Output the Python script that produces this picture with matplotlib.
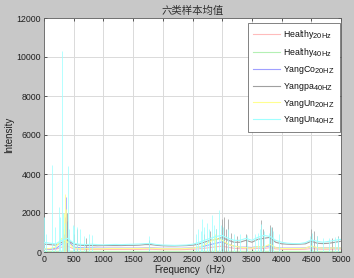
import matplotlib
matplotlib.use("Agg")
import matplotlib.pyplot as plt
import matplotlib._mathtext as _mt

_mt.SHRINK_FACTOR = 0.85  # MATLAB-like larger subscripts

plt.rcParams['font.family'] = ['Liberation Sans', 'Noto Sans CJK SC', 'DejaVu Sans']
plt.rcParams['mathtext.fontset'] = 'custom'
plt.rcParams['mathtext.rm'] = 'Liberation Sans'
plt.rcParams['mathtext.it'] = 'Liberation Sans'

# ---------------- data ----------------
base_freq = [0, 100, 200, 300, 400, 500, 600, 700, 800, 900,
             1000, 1100, 1200, 1300, 1400, 1500, 1600, 1700, 1800, 1900,
             2000, 2100, 2200, 2300, 2400, 2500, 2600, 2700, 2800, 2900,
             3000, 3100, 3200, 3300, 3400, 3500, 3600, 3700, 3800, 3900,
             4000, 4100, 4200, 4300, 4400, 4500, 4600, 4700, 4800, 4900, 5000]

healthy20_base = [130, 130, 140, 250, 300, 160, 140, 130, 130, 130,
                  130, 130, 130, 130, 130, 130, 130, 140, 140, 130,
                  120, 120, 120, 120, 130, 140, 160, 190, 230, 270,
                  300, 240, 190, 170, 170, 160, 190, 180, 220, 160,
                  140, 130, 130, 130, 140, 180, 150, 140, 140, 150, 150]
healthy40_base = [30, 30, 30, 40, 40, 30, 30, 30, 30, 30,
                  30, 30, 30, 30, 30, 30, 30, 30, 30, 30,
                  30, 30, 30, 30, 30, 30, 30, 30, 30, 30,
                  30, 30, 30, 30, 30, 30, 30, 30, 30, 30,
                  30, 30, 30, 30, 30, 30, 30, 30, 30, 30, 30]
yangco20_base = [150, 150, 180, 400, 600, 250, 220, 210, 210, 200,
                 200, 200, 200, 200, 200, 200, 200, 210, 210, 200,
                 190, 190, 190, 190, 200, 210, 250, 300, 380, 450,
                 520, 400, 300, 250, 250, 230, 280, 250, 320, 230,
                 200, 200, 200, 200, 210, 280, 220, 210, 210, 210, 200]
yangpa40_base = [400, 380, 350, 500, 600, 400, 350, 330, 330, 320,
                 330, 330, 330, 330, 340, 340, 350, 380, 380, 340,
                 320, 310, 310, 320, 330, 350, 400, 500, 600, 650,
                 750, 600, 500, 500, 600, 500, 650, 700, 750, 500,
                 420, 400, 390, 400, 420, 550, 450, 430, 450, 500, 550]
yangun20_base = [150, 180, 250, 700, 500, 200, 170, 170, 170, 170,
                 170, 180, 180, 180, 180, 180, 180, 190, 190, 180,
                 170, 170, 170, 170, 180, 200, 250, 350, 550, 700,
                 600, 400, 300, 250, 220, 200, 280, 250, 400, 220,
                 180, 180, 180, 180, 200, 300, 220, 200, 200, 210, 200]
yangun40_base = [500, 450, 420, 600, 700, 450, 400, 380, 400, 380,
                 370, 380, 390, 380, 390, 400, 410, 430, 440, 380,
                 360, 350, 340, 350, 360, 400, 480, 600, 700, 800,
                 850, 700, 600, 600, 700, 600, 750, 850, 800, 600,
                 500, 450, 430, 430, 480, 620, 550, 500, 550, 600, 650]

yangco20_spike_f = [340, 360, 375, 390]
yangco20_spike_v = [900, 1800, 2800, 1600]

yangpa40_spike_f = [360, 380, 500, 560, 700, 1760, 2700, 2800, 2900, 3000,
                    3030, 3070, 3100, 3150, 3250, 3400, 3650, 3680, 3800, 3830,
                    4500, 4550, 4600, 4850, 4950]
yangpa40_spike_v = [1200, 2000, 900, 1200, 700, 600, 900, 1100, 1200, 1700,
                    1800, 1200, 1700, 1000, 800, 900, 1650, 1200, 1400, 1300,
                    1200, 1100, 800, 700, 800]

yangun20_spike_f = [320, 340, 353, 370, 2880]
yangun20_spike_v = [1200, 2000, 3000, 2200, 900]

yangun40_spike_f = [0, 30, 140, 180, 250, 270, 303, 320, 350, 398,
                    420, 480, 510, 560, 610, 680, 750, 800, 1760, 2560,
                    2600, 2640, 2660, 2700, 2740, 2780, 2830, 2870, 2900, 2940,
                    2980, 3020, 3100, 3200, 3300, 3420, 3560, 3600, 3640, 3660,
                    3700, 3780, 3820, 3860, 3950, 4480, 4520, 4600, 4700, 4800,
                    4900, 4950, 5000]
yangun40_spike_v = [1800, 900, 4450, 1300, 2300, 1800, 10300, 2000, 1500, 4400,
                    1200, 1400, 1350, 1300, 1200, 800, 900, 850, 800, 900,
                    1200, 1100, 1700, 1300, 1500, 1200, 1900, 1400, 1200, 2150,
                    1400, 1300, 1200, 900, 900, 850, 900, 1000, 1200, 1450,
                    1100, 1000, 1300, 1100, 900, 800, 1000, 800, 700, 700,
                    750, 750, 800]

label_main = ['Healthy', 'Healthy', 'YangCo', 'Yangpa', 'YangUn', 'YangUn']
label_sub = ['20Hz', '40Hz', '20HZ', '40HZ', '20HZ', '40HZ']
colors = ['#ffbcbc', '#b4f0b4', '#a0a0ff', '#a0a0a0', '#ffff90', '#a0ffff']

x_ticks = [0, 500, 1000, 1500, 2000, 2500, 3000, 3500, 4000, 4500, 5000]
y_ticks = [0, 2000, 4000, 6000, 8000, 10000, 12000]

# ---------------- plot ----------------
fig = plt.figure(figsize=(3.54, 2.78), dpi=100, facecolor='#c8c8c8')
ax = fig.add_axes([44/354, 26/278, 297/354, 234/278])
ax.set_facecolor('white')

bases = [healthy20_base, healthy40_base, yangco20_base, yangpa40_base, yangun20_base, yangun40_base]
spikes = [None, None, (yangco20_spike_f, yangco20_spike_v), (yangpa40_spike_f, yangpa40_spike_v),
          (yangun20_spike_f, yangun20_spike_v), (yangun40_spike_f, yangun40_spike_v)]

for base, sp, c, m, s in zip(bases, spikes, colors, label_main, label_sub):
    lab = m + r'$_{\mathrm{' + s + '}}$'
    ax.plot(base_freq, base, color=c, lw=0.8, label=lab, zorder=3)
    if sp is not None:
        ax.vlines(sp[0], 0, sp[1], colors=c, lw=0.55, zorder=3)

ax.set_xlim(0, 5000)
ax.set_ylim(0, 12000)
ax.set_xticks(x_ticks)
ax.set_yticks(y_ticks)
ax.grid(True, color='#dadada', lw=0.7, zorder=0)
ax.set_axisbelow(True)
ax.tick_params(direction='in', length=2, width=0.5, labelsize=6.3, colors='#202020',
               top=True, right=True, pad=2)
for sp_ in ax.spines.values():
    sp_.set_color('#606060')
    sp_.set_linewidth(0.6)

ax.set_xlabel('Frequency（Hz）', fontsize=7, labelpad=0.5, color='#202020')
ax.set_ylabel('Intensity', fontsize=7, labelpad=2, color='#202020')
ax.set_title('六类样本均值', fontsize=7.5, pad=3, color='#303030',
             family=['Noto Sans CJK SC'])

leg = ax.legend(loc='upper right', bbox_to_anchor=(0.9966, 0.9786), borderaxespad=0,
                fontsize=6.3, frameon=True, fancybox=False,
                edgecolor='#505050', framealpha=1, handlelength=3.1,
                labelspacing=0.55, handletextpad=0.35, borderpad=0.6)
leg.get_frame().set_linewidth(0.5)
for t in leg.get_texts():
    t.set_color('#101010')

fig.savefig('out.png', dpi=100, facecolor=fig.get_facecolor())
